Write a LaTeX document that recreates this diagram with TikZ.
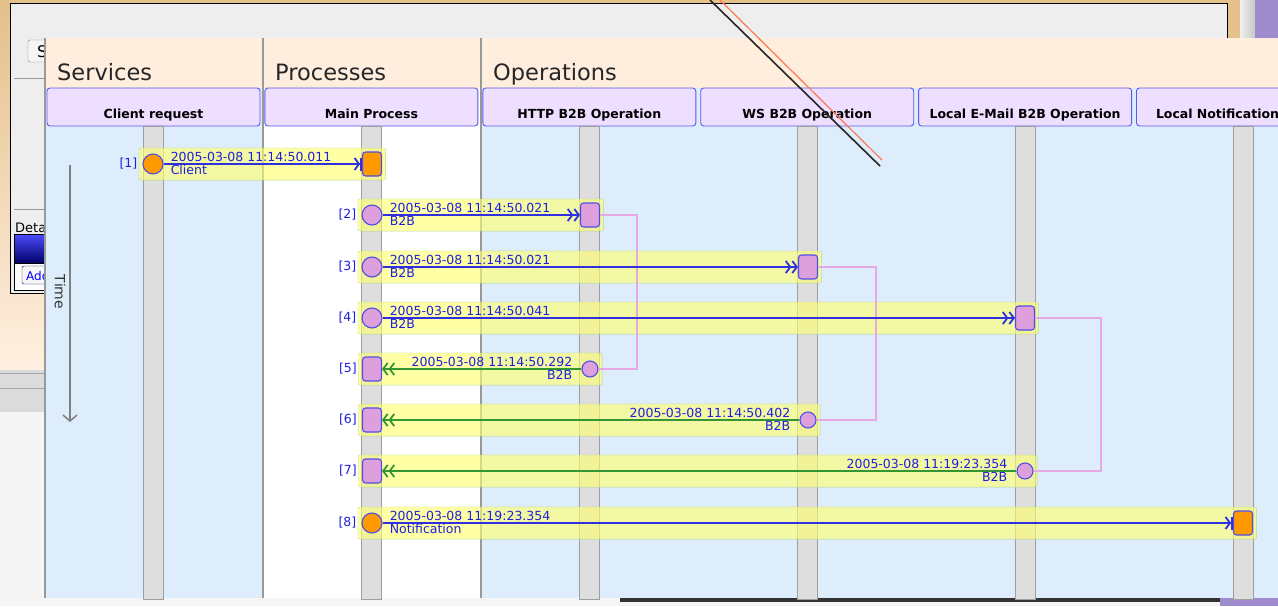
\documentclass[tikz,border=0pt]{standalone}
\usepackage{fontspec}
\setmainfont{DejaVu Sans}
\usetikzlibrary{arrows.meta, positioning, fit}
\definecolor{peach}{RGB}{255,237,221}
\definecolor{lanecolor}{RGB}{221,237,252}
\definecolor{headfill}{RGB}{238,222,255}
\definecolor{headline}{RGB}{90,90,235}
\definecolor{callblue}{RGB}{48,48,225}
\definecolor{replygreen}{RGB}{50,150,50}
\definecolor{textblue}{RGB}{32,32,220}
\definecolor{dotorange}{RGB}{255,153,0}
\definecolor{dotpink}{RGB}{221,160,221}
\definecolor{linkpink}{RGB}{232,168,228}
\definecolor{bandgreen}{RGB}{160,205,140}
\definecolor{bandyellow}{RGB}{255,255,110}
\definecolor{wingray}{RGB}{238,238,238}
\definecolor{deskorange}{RGB}{240,172,100}
\definecolor{desktan}{RGB}{228,192,138}
\definecolor{deskpurple}{RGB}{158,140,206}
\pgfdeclarelayer{lanes}
\pgfdeclarelayer{bands}
\pgfsetlayers{lanes,bands,main}

\begin{document}
\begin{tikzpicture}[
    x=1pt, y=-1pt,
    node distance=4pt,
    coltitle/.style={anchor=base west, inner sep=0pt, text=black!85, font=\fontsize{22.5}{26}\selectfont},
    lanehead/.style={draw=headline, fill=headfill, rounded corners=3pt, line width=0.9pt, minimum width=213pt, minimum height=38pt, inner ysep=5pt, text height=25pt, text depth=3pt, font=\fontsize{12.5}{14}\selectfont\bfseries},
    lifeline/.style={draw=black!38, fill=black!13, line width=1pt, minimum width=20pt, minimum height=473pt, inner sep=0pt},
    band/.style={draw=bandgreen, fill=bandyellow, fill opacity=0.62, draw opacity=0.75, rounded corners=2pt, inner sep=3.5pt},
    startdot/.style={circle, draw=callblue!85, line width=1.1pt, minimum size=20pt, inner sep=0pt},
    enddot/.style={circle, draw=callblue!85, line width=1.1pt, minimum size=16pt, inner sep=0pt},
    endbox/.style={rectangle, draw=callblue!85, rounded corners=3pt, line width=1.1pt, minimum width=19pt, minimum height=24pt, inner sep=0pt},
    stamp/.style={inner sep=0pt, text=textblue, font=\fontsize{12.5}{14}\selectfont},
    >={Straight Barb[length=4.5pt, width=12pt]},
    sync/.style={-{>Bar[width=13pt]}, draw=callblue, line width=1.8pt},
    async/.style={->>, draw=callblue, line width=1.8pt},
    reply/.style={->>, draw=replygreen, line width=1.8pt},
    link/.style={draw=linkpink, line width=1.2pt}
]
    \useasboundingbox (0,0) rectangle (1278,606);
    \clip (0,0) rectangle (1278,606);

    \begin{pgfonlayer}{lanes}
    % desktop and window behind the panel
    \fill[black!4] (0,0) rectangle (1278,606);
    \shade[top color=desktan, middle color=deskorange, bottom color=orange!12] (0,0) rectangle (45,370);
    \fill[desktan] (0,0) rectangle (1240,4);
    \fill[desktan] (1226,0) rectangle (1240,40);
    \shade[left color=black!6, right color=black!22] (1240,0) rectangle (1255,40);
    \fill[deskpurple] (1255,0) rectangle (1278,40);
    \fill[wingray, draw=black, line width=1pt] (10,3) rectangle (1227,293);
    \draw[black!40] (14,78) -- (45,78);
    \draw[black!40] (14,209) -- (45,209);
    \draw[black!50, fill=black!4, rounded corners=2pt] (28,40) rectangle (56,62);
    \node[anchor=base west, inner sep=0pt, font=\fontsize{16}{18}\selectfont] (btnS) at (37,57) {S};
    \node[anchor=base west, inner sep=0pt, font=\fontsize{13}{15}\selectfont] (lblDeta) at (15,232) {Detail};
    \shade[top color=blue!70, bottom color=blue!40!black, draw=black] (14,234) rectangle (45,263);
    \fill[white, draw=black] (14,263) rectangle (45,290);
    \draw[blue!40!black, fill=black!3, rounded corners=2pt] (22,266) rectangle (58,284);
    \node[anchor=base west, inner sep=0pt, text=blue, font=\fontsize{12}{14}\selectfont] (btnAdd) at (26,280) {Add};
    \fill[black!14] (0,370) rectangle (45,412);
    \draw[black!35] (0,373) -- (45,373);
    \draw[black!35] (0,388) -- (45,388);
    \fill[black!80] (620,598) rectangle (1220,602);
    \fill[deskpurple] (1220,598) rectangle (1278,606);

    % the panel
    \fill[peach] (45,38) rectangle (1278,88);
    \fill[lanecolor] (45,88) rectangle (263,598);
    \fill[white] (263,88) rectangle (481,598);
    \fill[lanecolor] (481,88) rectangle (1278,598);
    \draw[black!40, line width=1.5pt] (45,38) -- (45,598);
    \draw[black!40, line width=1.5pt] (263,38) -- (263,598);
    \draw[black!40, line width=1.5pt] (481,38) -- (481,598);
    \node[coltitle] (tServices) at (57,80) {Services};
    \node[coltitle] (tProcesses) at (275,80) {Processes};
    \node[coltitle] (tOperations) at (493,80) {Operations};

    % lane heads and lifelines
    \node[lanehead] (hClient) at (153.5,107) {Client request};
    \node[lanehead, right=of hClient] (hMain) {Main Process};
    \node[lanehead, right=of hMain] (hHttp) {HTTP B2B Operation};
    \node[lanehead, right=of hHttp] (hWs) {WS B2B Operation};
    \node[lanehead, right=of hWs] (hMail) {Local E-Mail B2B Operation};
    \node[lanehead, right=of hMail, text width=174pt, align=left] (hNotify) {Local Notification};
    \node[lifeline, below=0pt of hClient] (lClient) {};
    \node[lifeline, below=0pt of hMain] (lMain) {};
    \node[lifeline, below=0pt of hHttp] (lHttp) {};
    \node[lifeline, below=0pt of hWs] (lWs) {};
    \node[lifeline, below=0pt of hMail] (lMail) {};
    \node[lifeline, below=0pt of hNotify] (lNotify) {};

    % time axis
    \coordinate (time0) at (70,165);
    \coordinate (time1) at (70,422);
    \draw[black!50, line width=1.5pt, -{Straight Barb[length=6pt, width=14pt]}] (time0) -- (time1);
    \node[rotate=-90, text=black!80, font=\fontsize{14}{16}\selectfont] (lblTime) at (60,292) {Time};
    \end{pgfonlayer}

    % messages
    \node[startdot, fill=dotorange] (s1) at (153,164) {};
    \node[endbox, fill=dotorange] (t1) at (372,164) {};
    \node[startdot, fill=dotpink] (s2) at (372,215) {};
    \node[endbox, fill=dotpink] (t2) at (590,215) {};
    \node[startdot, fill=dotpink] (s3) at (372,267) {};
    \node[endbox, fill=dotpink] (t3) at (808,267) {};
    \node[startdot, fill=dotpink] (s4) at (372,318) {};
    \node[endbox, fill=dotpink] (t4) at (1025,318) {};
    \node[enddot, fill=dotpink] (s5) at (590,369) {};
    \node[endbox, fill=dotpink] (t5) at (372,369) {};
    \node[enddot, fill=dotpink] (s6) at (808,420) {};
    \node[endbox, fill=dotpink] (t6) at (372,420) {};
    \node[enddot, fill=dotpink] (s7) at (1025,471) {};
    \node[endbox, fill=dotpink] (t7) at (372,471) {};
    \node[startdot, fill=dotorange] (s8) at (372,523) {};
    \node[endbox, fill=dotorange] (t8) at (1243,523) {};

    \begin{pgfonlayer}{bands}
    \node[band, fit=(s1)(t1)] (b1) {};
    \node[band, fit=(s2)(t2)] (b2) {};
    \node[band, fit=(s3)(t3)] (b3) {};
    \node[band, fit=(s4)(t4)] (b4) {};
    \node[band, fit=(t5)(s5)] (b5) {};
    \node[band, fit=(t6)(s6)] (b6) {};
    \node[band, fit=(t7)(s7)] (b7) {};
    \node[band, fit=(s8)(t8)] (b8) {};
    \end{pgfonlayer}

    % returns are linked to their calls
    \draw[link] (t2.east) -- ++(37,0) |- (s5.east);
    \draw[link] (t3.east) -- ++(58,0) |- (s6.east);
    \draw[link] (t4.east) -- ++(66,0) |- (s7.east);

    \draw[sync] (s1) -- (t1);
    \draw[async] (s2) -- (t2);
    \draw[async] (s3) -- (t3);
    \draw[async] (s4) -- (t4);
    \draw[reply] (s5) -- (t5);
    \draw[reply] (s6) -- (t6);
    \draw[reply] (s7) -- (t7);
    \draw[sync] (s8) -- (t8);

    % time stamps and kinds
    \node[stamp, above right=2pt and 7pt of s1.east] (d1) {2005-03-08 11:14:50.011};
    \node[stamp, below right=1pt and 7pt of s1.east] (k1) {Client};
    \node[stamp, above right=2pt and 7pt of s2.east] (d2) {2005-03-08 11:14:50.021};
    \node[stamp, below right=1pt and 7pt of s2.east] (k2) {B2B};
    \node[stamp, above right=2pt and 7pt of s3.east] (d3) {2005-03-08 11:14:50.021};
    \node[stamp, below right=1pt and 7pt of s3.east] (k3) {B2B};
    \node[stamp, above right=2pt and 7pt of s4.east] (d4) {2005-03-08 11:14:50.041};
    \node[stamp, below right=1pt and 7pt of s4.east] (k4) {B2B};
    \node[stamp, above left=2pt and 9pt of s5.west] (d5) {2005-03-08 11:14:50.292};
    \node[stamp, below left=1pt and 9pt of s5.west] (k5) {B2B};
    \node[stamp, above left=2pt and 9pt of s6.west] (d6) {2005-03-08 11:14:50.402};
    \node[stamp, below left=1pt and 9pt of s6.west] (k6) {B2B};
    \node[stamp, above left=2pt and 9pt of s7.west] (d7) {2005-03-08 11:19:23.354};
    \node[stamp, below left=1pt and 9pt of s7.west] (k7) {B2B};
    \node[stamp, above right=2pt and 7pt of s8.east] (d8) {2005-03-08 11:19:23.354};
    \node[stamp, below right=1pt and 7pt of s8.east] (k8) {Notification};

    % step numbers
    \node[stamp, left=5pt of s1] (n1) {[1]};
    \node[stamp, left=5pt of s2] (n2) {[2]};
    \node[stamp, left=5pt of s3] (n3) {[3]};
    \node[stamp, left=5pt of s4] (n4) {[4]};
    \node[stamp, left=5pt of t5] (n5) {[5]};
    \node[stamp, left=5pt of t6] (n6) {[6]};
    \node[stamp, left=5pt of t7] (n7) {[7]};
    \node[stamp, left=5pt of s8] (n8) {[8]};

    % stray line over the panel
    \draw[black!85, line width=1.6pt] (710,0) -- (880,166);
    \draw[red!50!orange!70, line width=1.2pt] (720,0) -- (882,160);
\end{tikzpicture}
\end{document}
